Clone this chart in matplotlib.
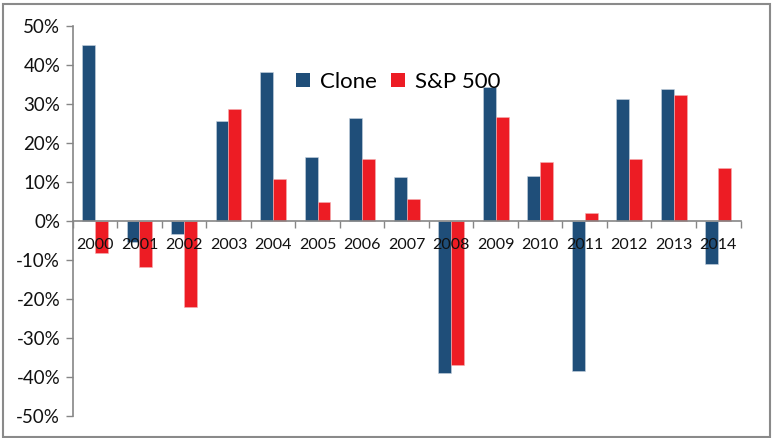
import matplotlib
matplotlib.use("Agg")
import matplotlib.pyplot as plt
from matplotlib.patches import Rectangle, Patch
from matplotlib.ticker import FuncFormatter
import numpy as np

plt.rcParams['font.family'] = ['Lato', 'DejaVu Sans']

years = ['2000', '2001', '2002', '2003', '2004', '2005', '2006', '2007',
         '2008', '2009', '2010', '2011', '2012', '2013', '2014']
clone = [45.0, -5.5, -3.4, 25.5, 38.3, 16.4, 26.3, 11.2,
         -38.9, 34.3, 11.6, -38.5, 31.2, 33.9, -10.9]
sp500 = [-8.3, -11.9, -22.1, 28.7, 10.8, 4.9, 16.0, 5.6,
         -36.8, 26.7, 15.2, 2.1, 16.0, 32.3, 13.6]

blue = '#1F4E79'
red = '#ED1C24'

fig = plt.figure(figsize=(7.73, 4.38), dpi=100)
ax = fig.add_axes([0.094, 0.050, 0.864, 0.891])

x = np.arange(len(years))
w = 0.29
ax.bar(x - w / 2, clone, width=w, color=blue, edgecolor='#c8d3e0', linewidth=0.4, zorder=1)
ax.bar(x + w / 2, sp500, width=w, color=red, edgecolor='#f4b0b3', linewidth=0.4, zorder=1)

ax.set_xlim(-0.5, len(years) - 0.5)
ax.set_ylim(-50, 50)
ax.set_yticks(np.arange(-50, 51, 10))
ax.yaxis.set_major_formatter(FuncFormatter(lambda v, p: f'{int(round(v))}%'))

# category boundary ticks on the zero line, labels centered in each category
ax.set_xticks(np.arange(-0.5, len(years), 1.0))
ax.set_xticklabels([])
ax.set_xticks(x, minor=True)
ax.set_xticklabels(years, minor=True)
ax.tick_params(axis='x', which='major', direction='out', length=5, color='#868686', width=1)
ax.tick_params(axis='x', which='minor', length=0, pad=12, labelsize=11.5, labelcolor='#111111')
ax.tick_params(axis='y', direction='out', length=5, color='#868686', width=1,
               labelsize=13.5, labelcolor='#111111', pad=4)

for s in ['top', 'right']:
    ax.spines[s].set_visible(False)
ax.spines['bottom'].set_position(('data', 0))
for s in ['left', 'bottom']:
    ax.spines[s].set_color('#868686')
    ax.spines[s].set_linewidth(1.2)

handles = [Patch(facecolor=blue, label='Clone'), Patch(facecolor=red, label='S&P 500')]
leg = ax.legend(handles=handles, loc='center', bbox_to_anchor=(0.487, 0.856),
                ncol=2, frameon=False, fontsize=16, handlelength=0.62,
                handleheight=0.62, handletextpad=0.45, columnspacing=0.65,
                borderpad=0)

# outer frame around the chart area
fig.patches.append(Rectangle((3.5 / 773, 1 / 438), 766.5 / 773, 433.5 / 438,
                             transform=fig.transFigure, fill=False,
                             edgecolor='#8a8a8a', linewidth=1.5))

fig.savefig('out.png', dpi=100)
